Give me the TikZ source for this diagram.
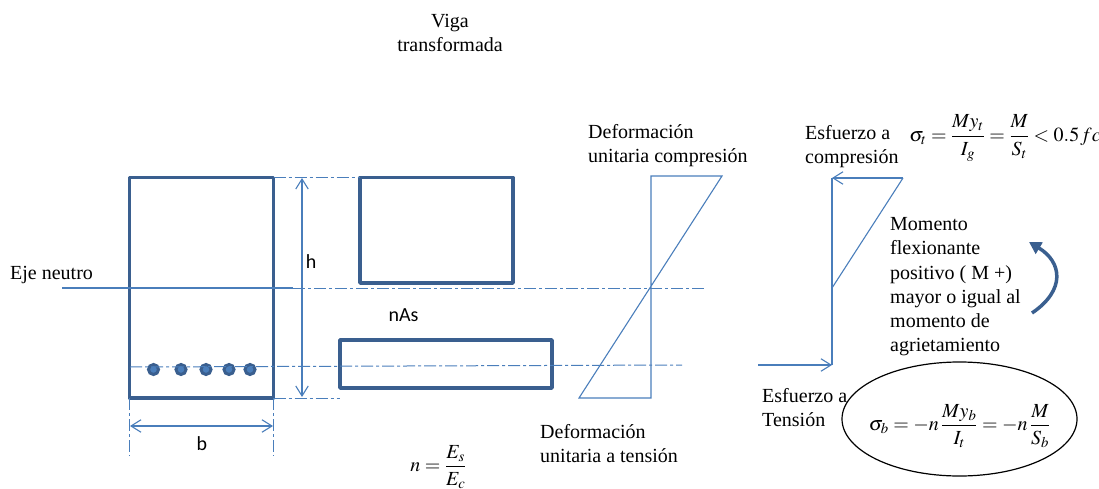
\documentclass[tikz,border=0pt]{standalone}
\usepackage{amsmath}
\usepackage{mathptmx}
\usepackage[no-math]{fontspec}
\setmainfont{Liberation Serif}
\newfontfamily\labelfont{Carlito}
\usetikzlibrary{arrows.meta}
\thickmuskip=4mu
\definecolor{beamblue}{RGB}{58,95,143}
\definecolor{lineblue}{RGB}{74,126,187}
\tikzset{>={Straight Barb[length=10pt,width=12.5pt,line width=1.1pt]}}
\tikzset{
  section/.style={draw=beamblue,line width=3.4pt,line join=round},
  thin line/.style={draw=lineblue,line width=1.1pt},
  axis line/.style={draw=lineblue,line width=1pt,dash pattern=on 12pt off 3pt on 3pt off 3pt},
  bar/.style={draw=beamblue,fill=lineblue,line width=3pt},
  caption/.style={align=left,anchor=north west,inner sep=0pt,font=\fontsize{20}{24.2}\selectfont},
  dimlabel/.style={inner sep=0pt,font=\fontsize{20}{24}\labelfont},
  formula/.style={inner sep=0pt,font=\fontsize{20}{24}\selectfont}
}
\begin{document}
\begin{tikzpicture}[x=1pt,y=-1pt]
\useasboundingbox (0,0) rectangle (1099,489);
% viga
\draw[section] (129.5,177.5) coordinate (tl) rectangle (273.5,398) coordinate (br);
\coordinate (tr) at (273.5,177.5);
\coordinate (bl) at (129.5,398);
\foreach \x in {153.5,181,206,229,250}
  \draw[bar] (\x,369.5) circle(5pt);
% viga transformada
\draw[section] (360,177.5) rectangle (513,283);
\draw[section] (340,340) rectangle (552,388);
% ejes
\draw[axis line] (tr) -- (360,177.5);
\draw[axis line] (br) -- (340,398);
\draw[axis line] (bl) -- +(0,58);
\draw[axis line] (br) -- +(0,58);
\draw[axis line] (130,367) -- (682,365);
\draw[thin line] (62,288) -- (293,288);
\draw[axis line] (293,288) -- (705,288);
% cotas
\draw[thin line,<->] (302,178) -- (302,397);
\draw[thin line,<->] (130,426) -- (273,426);
% deformacion
\draw[thin line] (651,176) coordinate (dt) -- (722,176) coordinate (dr)
  -- (579,398) coordinate (dl) -- (651,398) coordinate (db) -- cycle;
% esfuerzo
\draw[thin line] (832,178) coordinate (st) -- (832,365) coordinate (sb);
\draw[thin line,->] (903,178) coordinate (sr) -- (st);
\draw[thin line] (sr) -- (832,288);
\draw[thin line,->] (758,365) -- (sb);
% momento
\draw[beamblue,line width=3.5pt,-{Triangle[length=12pt,width=13pt]}] (1032,313) .. controls (1066,290) and (1062,262) .. (1029,242);
\draw[black,line width=1.2pt] (959.5,419) ellipse (117.5 and 57);
% textos
\node[caption,anchor=center,align=center] (title) at (450,33) {Viga\\transformada};
\node[caption] (neutro) at (10,266) {Eje neutro};
\node[caption] (defcomp) at (588,124) {Deformación\\unitaria compresión};
\node[caption] (defacc) at (540,424) {Deformación\\unitaria a tensión};
\node[caption] (escomp) at (805,125) {Esfuerzo a\\compresión};
\node[caption] (estens) at (762,388) {Esfuerzo a\\Tensión};
\node[caption] (momento) at (890,217.5) {Momento\\flexionante\\positivo ( M +)\\mayor o igual al\\momento de\\agrietamiento};
\node[dimlabel] (h) at (311,262) {h};
\node[dimlabel] (b) at (202,444) {b};
\node[dimlabel] (nas) at (403.5,315) {nAs};
\node[formula] (sigmat) at (1005,138) {$\sigma_{t}=\dfrac{My_{t}}{I_{g}}=\dfrac{M}{S_{t}}<0.5\mspace{1mu}fc$};
\node[formula] (sigmab) at (959.5,426) {$\sigma_{b}=-n\mspace{2mu}\dfrac{My_{b}}{I_{t}}=-n\mspace{2mu}\dfrac{M}{S_{b}}$};
\node[formula] (modn) at (438.5,467) {$n=\dfrac{E_{s}}{E_{c}}$};
\end{tikzpicture}
\end{document}
